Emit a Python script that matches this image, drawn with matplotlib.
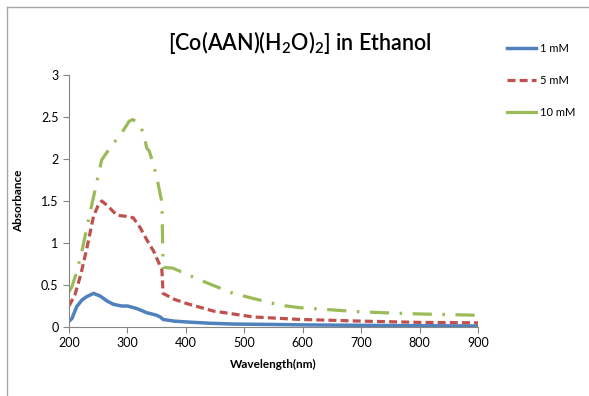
import matplotlib
matplotlib.use("Agg")
import matplotlib.pyplot as plt

# wavelength (nm) and absorbance
wl_1mM = [200, 205, 213, 222, 230, 242, 253, 265, 276, 290, 300, 316, 333, 350, 356,
          361, 380, 401, 440, 481, 550, 600, 700, 800, 900]
abs_1mM = [0.07, 0.10, 0.24, 0.32, 0.36, 0.40, 0.37, 0.31, 0.27, 0.25, 0.25, 0.22,
           0.17, 0.14, 0.12, 0.09, 0.07, 0.06, 0.045, 0.035, 0.03, 0.025, 0.02, 0.015, 0.012]

wl_5mM = [200, 210, 220, 230, 242, 250, 256, 265, 282, 295, 310, 322, 333, 345, 359,
          361, 380, 401, 447, 515, 595, 700, 800, 900]
abs_5mM = [0.25, 0.38, 0.62, 0.92, 1.32, 1.45, 1.50, 1.45, 1.33, 1.32, 1.30, 1.18,
           1.04, 0.90, 0.68, 0.40, 0.33, 0.28, 0.19, 0.12, 0.09, 0.07, 0.055, 0.05]

wl_10mM = [200, 205, 213, 222, 236, 256, 270, 293, 303, 309, 319, 328, 333, 337, 344,
           352, 359, 361, 378, 424, 481, 561, 595, 700, 800, 900]
abs_10mM = [0.42, 0.48, 0.65, 0.90, 1.36, 1.99, 2.13, 2.34, 2.45, 2.47, 2.43, 2.30,
            2.13, 2.10, 1.95, 1.72, 1.48, 0.71, 0.70, 0.56, 0.40, 0.26, 0.23, 0.18,
            0.155, 0.14]

labels = ["1 mM", "5 mM", "10 mM"]
x_ticks = [200, 300, 400, 500, 600, 700, 800, 900]
y_ticks = [0, 0.5, 1, 1.5, 2, 2.5, 3]
y_tick_labels = ["0", "0.5", "1", "1.5", "2", "2.5", "3"]

plt.rcParams["font.family"] = ["Lato", "DejaVu Sans"]
plt.rcParams["mathtext.default"] = "regular"

fig = plt.figure(figsize=(5.89, 3.96), dpi=100)
ax = fig.add_axes([69 / 589, 1 - 327 / 396, 409 / 589, 252 / 396])

blue = "#4F81BD"
red = "#C0504D"
green = "#9BBB59"

ax.plot(wl_1mM, abs_1mM, color=blue, lw=2.5, label=labels[0],
        solid_capstyle="butt")
ax.plot(wl_5mM, abs_5mM, color=red, lw=2.3, dashes=(2.5, 1.3), label=labels[1])
ax.plot(wl_10mM, abs_10mM, color=green, lw=2.3, dashes=(6, 3.3, 0.8, 3.3),
        label=labels[2])

ax.set_xlim(200, 900)
ax.set_ylim(0, 3)
ax.set_xticks(x_ticks)
ax.set_yticks(y_ticks)
ax.set_yticklabels(y_tick_labels)

for side in ["top", "right"]:
    ax.spines[side].set_visible(False)
for side in ["left", "bottom"]:
    ax.spines[side].set_color("#868686")
    ax.spines[side].set_linewidth(0.8)
ax.tick_params(axis="both", colors="#868686", labelcolor="black",
               labelsize=9, length=4, width=0.8, direction="out")

ax.set_xlabel("Wavelength(nm)", fontsize=8.5, fontweight="bold", labelpad=7)
ax.set_ylabel("Absorbance", fontsize=8.5, fontweight="bold", labelpad=12)

fig.text(300 / 589, 1 - 42 / 396, r"[Co(AAN)(H$_2$O)$_2$] in Ethanol",
         ha="center", va="center", fontsize=15.5, fontweight="semibold")

handles = [
    plt.Line2D([], [], color=blue, lw=2.5),
    plt.Line2D([], [], color=red, lw=2.3, dashes=(2.5, 1.3)),
    plt.Line2D([], [], color=green, lw=2.3),
]
fig.legend(handles, labels, loc="upper left",
           bbox_to_anchor=(497 / 589, 1 - 33 / 396), frameon=False,
           fontsize=8, handlelength=2.6, labelspacing=1.9, handletextpad=0.4)

# light frame of the chart area
fig.add_artist(plt.Line2D([7 / 589, 7 / 589], [0, 1 - 7 / 396],
                          transform=fig.transFigure, color="#a6a6a6", lw=1))
fig.add_artist(plt.Line2D([7 / 589, 1], [1 - 7 / 396, 1 - 7 / 396],
                          transform=fig.transFigure, color="#a6a6a6", lw=1))

fig.savefig("out.png", dpi=100)
